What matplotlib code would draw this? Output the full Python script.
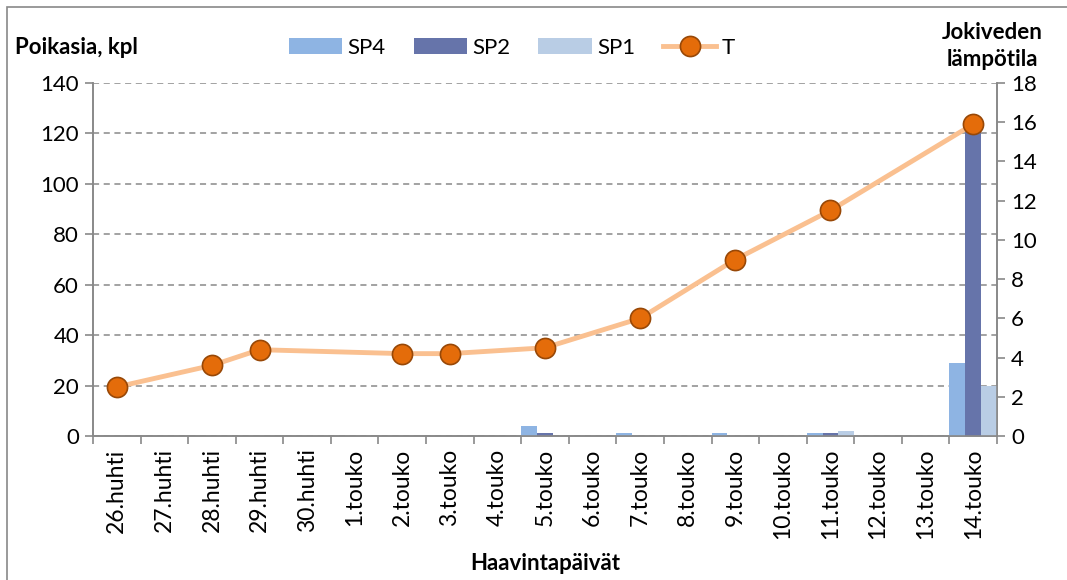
import matplotlib
matplotlib.use("Agg")
import matplotlib.pyplot as plt
import numpy as np
from matplotlib.patches import Rectangle

dates = ["26.huhti", "27.huhti", "28.huhti", "29.huhti", "30.huhti", "1.touko",
         "2.touko", "3.touko", "4.touko", "5.touko", "6.touko", "7.touko",
         "8.touko", "9.touko", "10.touko", "11.touko", "12.touko", "13.touko",
         "14.touko"]
sp4 = [0, 0, 0, 0, 0, 0, 0, 0, 0, 4, 0, 1, 0, 1, 0, 1, 0, 0, 29]
sp2 = [0, 0, 0, 0, 0, 0, 0, 0, 0, 1, 0, 0, 0, 0, 0, 1, 0, 0, 121]
sp1 = [0, 0, 0, 0, 0, 0, 0, 0, 0, 0, 0, 0, 0, 0, 0, 2, 0, 0, 20]
t_dates = ["26.huhti", "28.huhti", "29.huhti", "2.touko", "3.touko", "5.touko",
           "7.touko", "9.touko", "11.touko", "14.touko"]
t_vals = [2.5, 3.6, 4.4, 4.2, 4.2, 4.5, 6.0, 9.0, 11.5, 15.9]

plt.rcParams['font.family'] = ['Lato', 'DejaVu Sans']
FS = 16
GRAY = "#898989"

fig = plt.figure(figsize=(10.67, 5.8), dpi=100)
ax = fig.add_axes([93/1067, 1-436/580, (997-93)/1067, (436-83)/580])
ax2 = ax.twinx()

x = np.arange(len(dates))
w = 1/3
b1 = ax.bar(x - w, sp4, w, color="#8EB4E3", label="SP4", zorder=3)
b2 = ax.bar(x, sp2, w, color="#6674AA", label="SP2", zorder=3)
b3 = ax.bar(x + w, sp1, w, color="#B9CDE5", label="SP1", zorder=3)

tx = [dates.index(d) for d in t_dates]
ln, = ax2.plot(tx, t_vals, color="#FAC090", lw=3.5, marker="o", ms=14.5,
               mfc="#E46C0A", mec="#984807", mew=1.2, label="T", zorder=4)

ax.set_xlim(-0.5, len(dates) - 0.5)
ax.set_ylim(0, 140)
ax.set_yticks(range(0, 141, 20))
ax2.set_ylim(0, 18)
ax2.set_yticks(range(0, 19, 2))

ax.yaxis.grid(True, ls=(0, (4, 3)), color=GRAY, lw=1.1, zorder=0)
ax.set_axisbelow(True)

ax.set_xticks(x)
ax.set_xticklabels(dates, rotation=90, fontsize=FS + 0.5)
ax.set_xticks(np.arange(-0.5, len(dates), 1), minor=True)
ax.tick_params(axis="x", which="major", length=0, pad=9)
ax.tick_params(axis="x", which="minor", length=6, color=GRAY, width=1.2)
ax.tick_params(axis="y", labelsize=FS, length=6, color=GRAY, width=1.2, pad=4)
ax2.tick_params(axis="y", labelsize=FS, length=6, color=GRAY, width=1.2, pad=4)

for a in (ax, ax2):
    a.spines["top"].set_visible(False)
    for s in ("left", "right", "bottom"):
        a.spines[s].set_color(GRAY)
        a.spines[s].set_linewidth(1.2)

fig.text(15/1067, 1-47/580, "Poikasia, kpl", fontsize=FS, fontweight="bold",
         va="center", ha="left")
fig.text(992/1067, 1-46/580, "Jokiveden\nlämpötila", fontsize=FS, fontweight="bold",
         va="center", ha="center", linespacing=1.35)
fig.text(545/1067, 1-563/580, "Haavintapäivät", fontsize=FS, fontweight="bold",
         va="center", ha="center")

fig.legend(handles=[b1, b2, b3, ln], labels=["SP4", "SP2", "SP1", "T"],
           loc="center", bbox_to_anchor=(512/1067, 1-48/580), ncol=4,
           frameon=False, fontsize=FS, handlelength=2.4, handleheight=0.7,
           columnspacing=1.25, handletextpad=0.25)

fig.patches.append(Rectangle((7/1067, -0.1), 1.2, 1-7/580+0.1, transform=fig.transFigure,
                             fill=False, ec=GRAY, lw=1.2))

fig.savefig("out.png", dpi=100)
